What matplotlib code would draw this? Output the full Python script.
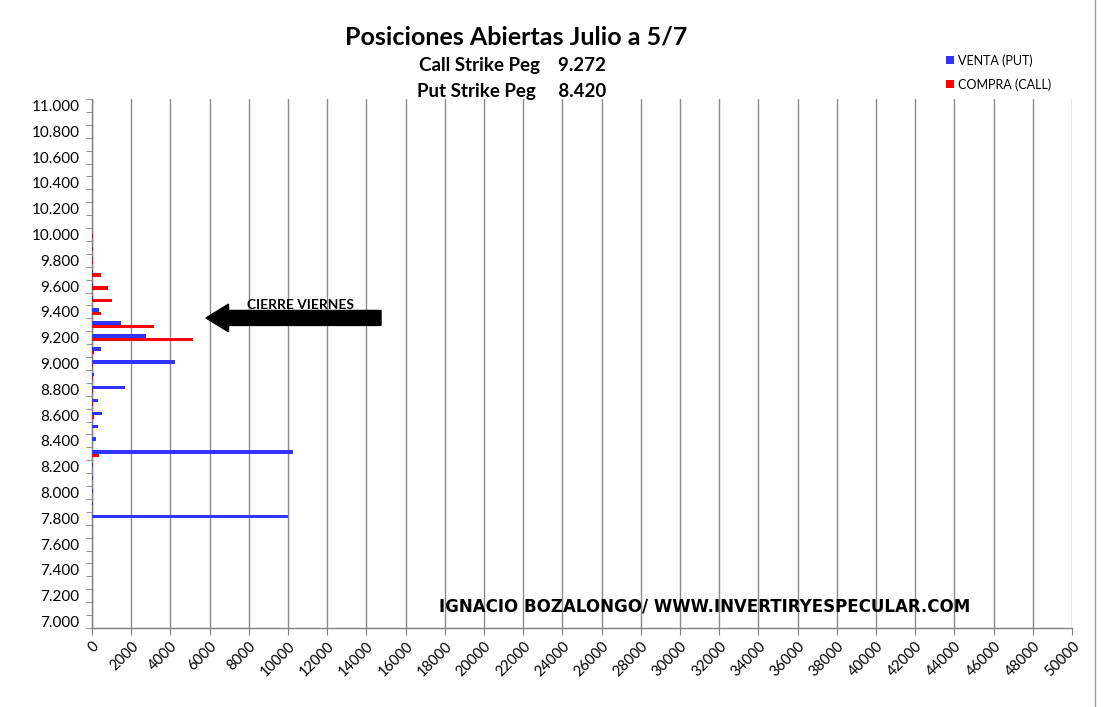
import matplotlib
matplotlib.use("Agg")
import matplotlib.pyplot as plt
from matplotlib.patches import FancyArrow
from matplotlib.lines import Line2D
import numpy as np

# ---- data ----
strikes = [7.8, 7.9, 8.0, 8.1, 8.2, 8.3, 8.4, 8.5, 8.6, 8.7, 8.8, 8.9,
           9.0, 9.1, 9.2, 9.3, 9.4, 9.5, 9.6, 9.7, 9.8, 9.9, 10.0]
venta_put = [10000, 60, 50, 60, 70, 10280, 190, 290, 490, 290, 1670, 120,
             4220, 440, 2740, 1500, 340, 70, 70, 50, 30, 0, 0]
compra_call = [0, 0, 0, 0, 0, 340, 0, 0, 120, 50, 70, 70,
               70, 120, 5130, 3150, 440, 1000, 800, 440, 50, 70, 70]
ytick_values = [7.0, 7.2, 7.4, 7.6, 7.8, 8.0, 8.2, 8.4, 8.6, 8.8, 9.0,
                9.2, 9.4, 9.6, 9.8, 10.0, 10.2, 10.4, 10.6, 10.8, 11.0]
ytick_labels = ["7.000", "7.200", "7.400", "7.600", "7.800", "8.000", "8.200",
                "8.400", "8.600", "8.800", "9.000", "9.200", "9.400", "9.600",
                "9.800", "10.000", "10.200", "10.400", "10.600", "10.800", "11.000"]
xticks = list(range(0, 50001, 2000))

plt.rcParams['font.family'] = ['Lato', 'DejaVu Sans']

W, H = 1103, 707
fig = plt.figure(figsize=(W / 100, H / 100), dpi=100)
ax = fig.add_axes([92 / W, (H - 628) / H, (1072 - 92) / W, (628 - 99) / H])

blue = '#3333ff'
red = '#ff0000'
bh = 0.027
s = np.array(strikes)
ax.barh(s + 0.0135, venta_put, height=bh, color=blue, label='VENTA (PUT)', zorder=3)
ax.barh(s - 0.0135, compra_call, height=bh, color=red, label='COMPRA (CALL)', zorder=3)

ax.set_xlim(0, 50000)
ax.set_ylim(6.95, 11.05)
ax.set_xticks(xticks)
ax.set_xticklabels([str(v) for v in xticks], rotation=45, ha='right',
                   rotation_mode='anchor', fontsize=10.5)
ax.set_yticks(ytick_values)
ax.set_yticklabels(ytick_labels, fontsize=11)
ax.set_yticks([6.95 + 0.1 * k for k in range(42)], minor=True)
ax.tick_params(axis='y', which='major', length=0, pad=9)
ax.tick_params(axis='y', which='minor', length=4, color='#808080', direction='out')
ax.tick_params(axis='x', which='major', length=5, color='#808080', pad=3)

ax.grid(axis='x', color='#8a8a8a', linewidth=1.0, zorder=0)
ax.set_axisbelow(True)
for side in ['top', 'right']:
    ax.spines[side].set_visible(False)
for side in ['left', 'bottom']:
    ax.spines[side].set_color('#808080')
    ax.spines[side].set_linewidth(1.0)

# titles
fig.text(516 / W, 1 - 37 / H, 'Posiciones Abiertas Julio a 5/7', ha='center', va='center',
         fontsize=18, fontweight='bold')
fig.text(512 / W, 1 - 66 / H, 'Call Strike Peg    9.272', ha='center', va='center',
         fontsize=13.5, fontweight='bold')
fig.text(512 / W, 1 - 92 / H, 'Put Strike Peg     8.420', ha='center', va='center',
         fontsize=13.5, fontweight='bold')

# legend
leg = fig.legend(loc='upper left', bbox_to_anchor=(935 / W, 1 - 43 / H), frameon=False,
                 fontsize=9, handlelength=0.6, handleheight=0.6, handletextpad=0.3,
                 labelspacing=0.9)

# arrow annotation
ax.add_patch(FancyArrow(14745, 9.353, 5816 - 14745, 0, width=0.116, head_width=0.215,
                        head_length=1150, length_includes_head=True, color='black',
                        zorder=5))
ax.text(10663, 9.45, 'CIERRE VIERNES', ha='center', va='center', fontsize=9.9,
        fontweight='bold', zorder=6)

# watermark
ax.text(31276, 7.113, 'IGNACIO BOZALONGO/ WWW.INVERTIRYESPECULAR.COM', ha='center',
        va='center', fontsize=12, fontweight='bold', family='DejaVu Sans', zorder=6)

# chart frame right line
fig.add_artist(Line2D([1095 / W, 1095 / W], [0, 1], color='#a0a0a0', linewidth=1.0))

fig.savefig('out.png', dpi=100)
